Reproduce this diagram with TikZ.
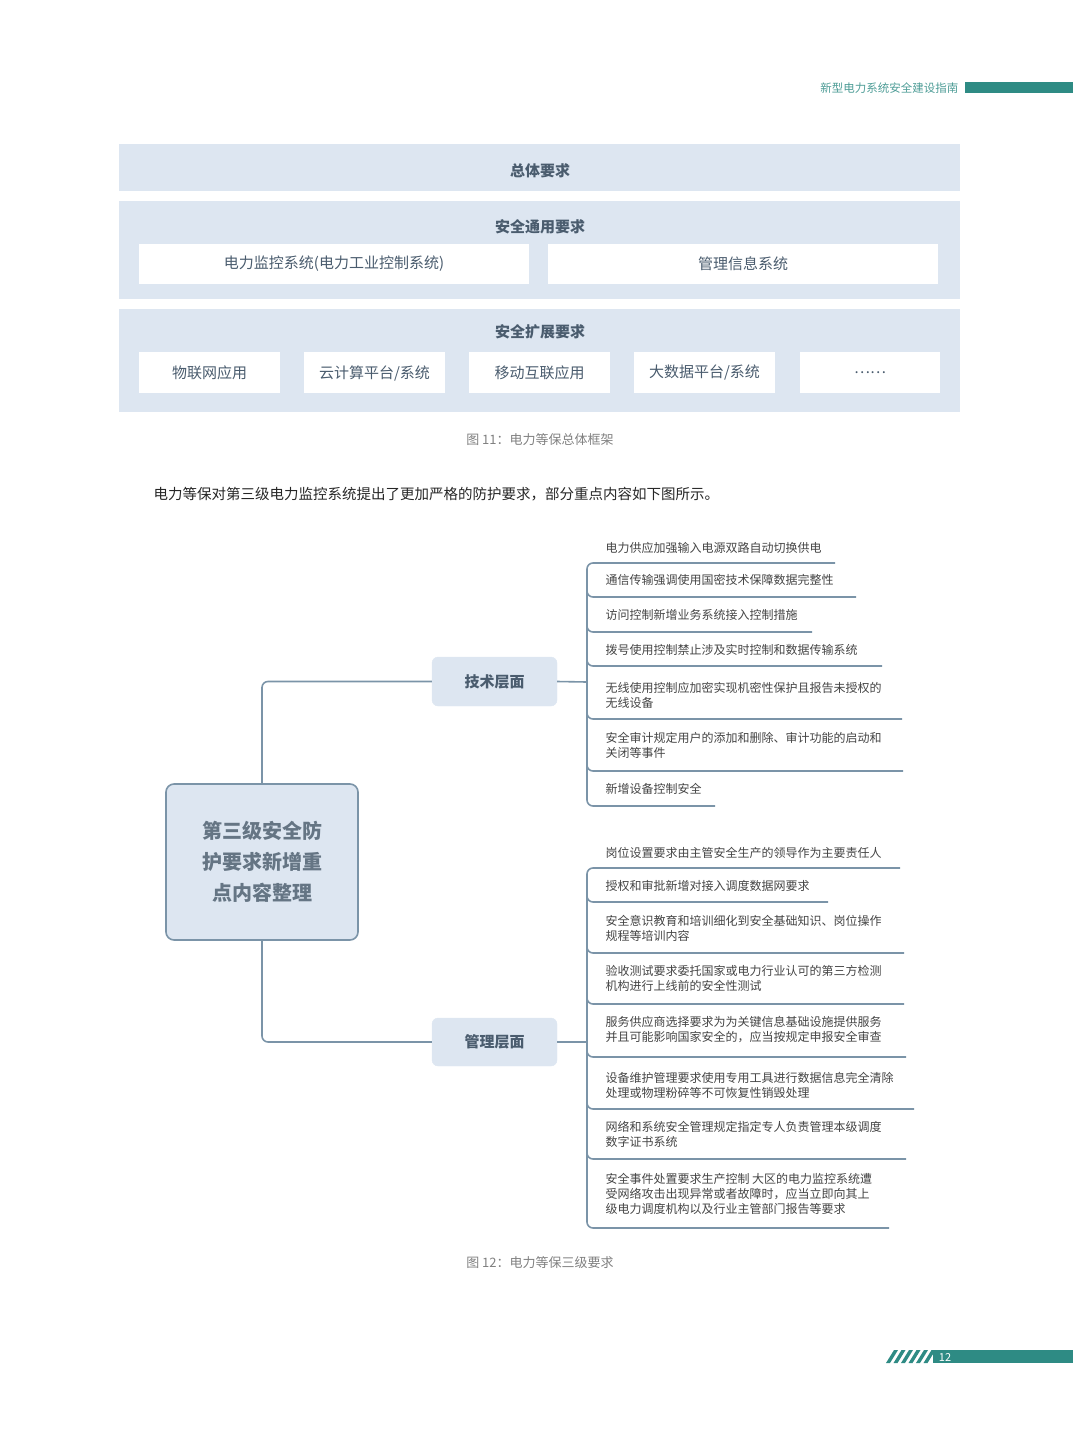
\documentclass[tikz,border=0pt]{standalone}
\usepackage{fontspec}
\setmainfont{Noto Sans CJK SC}
\definecolor{panel}{HTML}{DDE6F1}
\definecolor{ink}{HTML}{4A5C6E}
\definecolor{linec}{HTML}{7B94A8}
\definecolor{teal}{HTML}{2E8B84}
\definecolor{txt}{HTML}{444444}
\begin{document}
\begin{tikzpicture}[x=1pt,y=-1pt,
 band/.style={fill=panel,draw=none},
 wbox/.style={fill=white,draw=none},
 lbl/.style={font=\fontsize{15}{18}\selectfont,text=ink},
 ttl/.style={font=\fontsize{15}{18}\selectfont\bfseries,text=ink},
 item/.style={font=\fontsize{12}{15}\selectfont,text=txt,anchor=west,align=left},
 lev/.style={fill=panel,draw=panel,rounded corners=6pt,font=\fontsize{15}{18}\selectfont\bfseries,text=ink},
 conn/.style={draw=linec,line width=1.6pt,rounded corners=6pt},
 captxt/.style={font=\fontsize{13}{16}\selectfont,text=gray}]
\useasboundingbox (0,0) rectangle (1080,1440);
% header
\node[anchor=east,font=\fontsize{11.5}{14}\selectfont,text=teal!85] (hd) at (962,88) {新型电力系统安全建设指南};
\fill[teal] (965,82) rectangle (1073,93);
% footer
\fill[teal] (933,1350) rectangle (1073,1363);
\foreach \i in {0,...,5} {\fill[teal] (886+\i*7.5,1363) -- (890+\i*7.5,1363) -- (898+\i*7.5,1350) -- (894+\i*7.5,1350) -- cycle;}
\node[text=white,font=\fontsize{11}{13}\selectfont] (pg) at (945,1357) {12};
% framework
\fill[band] (119,144) rectangle (960,191);
\node[ttl] (zt) at (540,171) {总体要求};
\fill[band] (119,201) rectangle (960,299);
\node[ttl] (ty) at (540,227) {安全通用要求};
\fill[wbox] (139,244) rectangle (529,284);
\fill[wbox] (548,244) rectangle (938,284);
\node[lbl] (a1) at (334,264) {电力监控系统(电力工业控制系统)};
\node[lbl] (a2) at (743,264) {管理信息系统};
\fill[band] (119,309) rectangle (960,412);
\node[ttl] (kz) at (540,332) {安全扩展要求};
\foreach \x/\w/\t [count=\k] in {139/141/{物联网应用},304/141/{云计算平台/系统},469/141/{移动互联应用},634/141/{大数据平台/系统},800/140/{……}} {
  \fill[wbox] (\x,352) rectangle (\x+\w,393);
  \node[lbl] (b\k) at (\x+\w/2,373) {\t};
}
\node[captxt] (c1) at (540,440) {图 11：电力等保总体框架};
\node[anchor=west,font=\fontsize{14.5}{18}\selectfont,text=black!85] (para) at (150,494) {电力等保对第三级电力监控系统提出了更加严格的防护要求，部分重点内容如下图所示。};
% mind map
\node[draw=linec,line width=1.6pt,fill=panel,rounded corners=8pt,minimum width=192pt,minimum height=156pt,align=center,font=\fontsize{20}{31}\selectfont\bfseries,text=ink!85] (root) at (262,862) {第三级安全防\\护要求新增重\\点内容整理};
\node[lev,minimum width=125pt,minimum height=49pt] (tech) at (494.5,681.5) {技术层面};
\node[lev,minimum width=125pt,minimum height=48pt] (mgmt) at (494.5,1042) {管理层面};
\draw[conn] (root.north) |- (tech.west);
\draw[conn] (root.south) |- (mgmt.west);
\coordinate (tj) at (587,682);
\coordinate (mj) at (587,1042);
\draw[conn] (tech.east) -- (tj);
\draw[conn] (mgmt.east) -- (mj);
% tech items
\foreach \ty/\uy/\rx/\t [count=\k] in {
 548/563/835/{电力供应加强输入电源双路自动切换供电},
 580/597/856/{通信传输强调使用国密技术保障数据完整性},
 615/632/812/{访问控制新增业务系统接入控制措施},
 650/666/882/{拨号使用控制禁止涉及实时控制和数据传输系统},
 695/719/902/{无线使用控制应加密实现机密性保护且报告未授权的\\无线设备},
 745/771/903/{安全审计规定用户的添加和删除、审计功能的启动和\\关闭等事件},
 789/806/715/{新增设备控制安全}} {
  \node[item] (t\k) at (602,\ty) {\t};
  \coordinate (tu\k) at (\rx,\uy);
}
\draw[conn] (tu1) -- (587,563) -- (587,806) -- (tu7);
\foreach \uy/\k in {597/2,632/3,666/4,719/5,771/6} {\draw[conn] (587,\uy-12) -- (587,\uy) -- (tu\k);}
% mgmt items
\foreach \ty/\uy/\rx/\t [count=\k] in {
 853/868/900/{岗位设置要求由主管安全生产的领导作为主要责任人},
 886/902/828/{授权和审批新增对接入调度数据网要求},
 928/953/904/{安全意识教育和培训细化到安全基础知识、岗位操作\\规程等培训内容},
 978/1004/904/{验收测试要求委托国家或电力行业认可的第三方检测\\机构进行上线前的安全性测试},
 1030/1057/906/{服务供应商选择要求为为关键信息基础设施提供服务\\并且可能影响国家安全的，应当按规定申报安全审查},
 1085/1109/914/{设备维护管理要求使用专用工具进行数据信息完全清除\\处理或物理粉碎等不可恢复性销毁处理},
 1134/1159/906/{网络和系统安全管理规定指定专人负责管理本级调度\\数字证书系统},
 1194/1228/889/{安全事件处置要求生产控制 大区的电力监控系统遭\\受网络攻击出现异常或者故障时，应当立即向其上\\级电力调度机构以及行业主管部门报告等要求}} {
  \node[item] (m\k) at (602,\ty) {\t};
  \coordinate (mu\k) at (\rx,\uy);
}
\draw[conn] (mu1) -- (587,868) -- (587,1228) -- (mu8);
\foreach \uy/\k in {902/2,953/3,1004/4,1057/5,1109/6,1159/7} {\draw[conn] (587,\uy-12) -- (587,\uy) -- (mu\k);}
\node[captxt] (c2) at (540,1263) {图 12：电力等保三级要求};
\end{tikzpicture}
\end{document}
